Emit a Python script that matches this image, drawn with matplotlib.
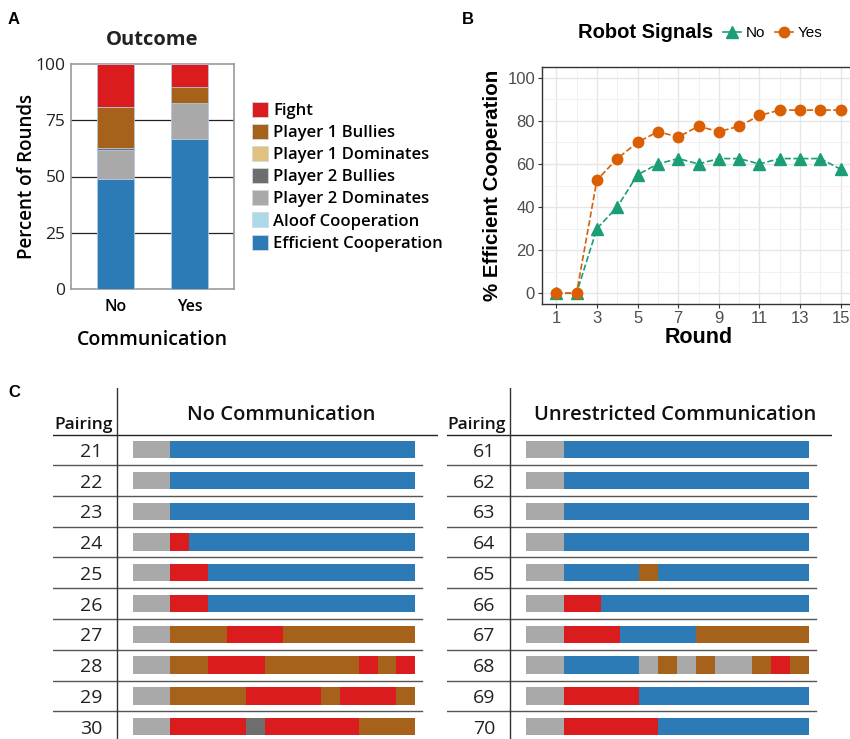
import matplotlib.pyplot as plt
from matplotlib.patches import Patch
from matplotlib.lines import Line2D

W, H = 850, 739

# Panel A: outcome shares (top of stack first)
outcomes = ["Fight", "Player 1 Bullies", "Player 1 Dominates", "Player 2 Bullies",
            "Player 2 Dominates", "Aloof Cooperation", "Efficient Cooperation"]
outcome_colors = ["#da1c1f", "#a6611a", "#dfc27d", "#6e6e6e",
                  "#a9a9a9", "#abd9e9", "#2c7bb6"]
comm_groups = ["No", "Yes"]
pct_no = [19.3, 18.0, 0.0, 0.7, 13.3, 0.0, 48.7]
pct_yes = [10.0, 7.3, 0.0, 0.0, 16.0, 0.0, 66.7]

# Panel B: % efficient cooperation per round
rounds = list(range(1, 16))
eff_signal_no = [0, 0, 30, 40, 55, 60, 62.5, 60, 62.5, 62.5, 60, 62.5, 62.5, 62.5, 57.5]
eff_signal_yes = [0, 0, 52.5, 62.5, 70, 75, 72.5, 77.5, 75, 77.5, 82.5, 85, 85, 85, 85]

# Panel C: round-by-round outcome of each pairing
# F fight, B P1 bullies, b P2 bullies, G P2 dominates, E efficient cooperation
code_index = {"F": 0, "B": 1, "d": 2, "b": 3, "G": 4, "A": 5, "E": 6}
pairings_none = ["21", "22", "23", "24", "25", "26", "27", "28", "29", "30"]
seq_none = [
    "GGEEEEEEEEEEEEE",
    "GGEEEEEEEEEEEEE",
    "GGEEEEEEEEEEEEE",
    "GGFEEEEEEEEEEEE",
    "GGFFEEEEEEEEEEE",
    "GGFFEEEEEEEEEEE",
    "GGBBBFFFBBBBBBB",
    "GGBBFFFBBBBBFBF",
    "GGBBBBFFFFBFFFB",
    "GGFFFFbFFFFFBBB",
]
pairings_free = ["61", "62", "63", "64", "65", "66", "67", "68", "69", "70"]
seq_free = [
    "GGEEEEEEEEEEEEE",
    "GGEEEEEEEEEEEEE",
    "GGEEEEEEEEEEEEE",
    "GGEEEEEEEEEEEEE",
    "GGEEEEBEEEEEEEE",
    "GGFFEEEEEEEEEEE",
    "GGFFFEEEEBBBBBB",
    "GGEEEEGBGBGGBFB",
    "GGFFFFEEEEEEEEE",
    "GGFFFFFEEEEEEEE",
]

SANS = ["Open Sans", "DejaVu Sans"]
ARIAL = ["Liberation Sans", "DejaVu Sans"]
plt.rcParams["font.family"] = SANS

fig = plt.figure(figsize=(W / 100, H / 100), dpi=100)


def px_axes(left, top, right, bottom):
    return fig.add_axes([left / W, 1 - bottom / H, (right - left) / W, (bottom - top) / H])


# ---------------- Panel A ----------------
ax_a = px_axes(71, 64, 234, 289)
xpos = [1, 2]
for g, vals in enumerate([pct_no, pct_yes]):
    bottom = 0
    for k in range(len(outcomes) - 1, -1, -1):
        if vals[k] > 0:
            ax_a.bar(xpos[g], vals[k], bottom=bottom, width=0.5, color=outcome_colors[k],
                     edgecolor="#b4c6dc", linewidth=0.6, zorder=3)
        bottom += vals[k]
ax_a.set_xlim(0.4, 2.6)
ax_a.set_ylim(0, 100)
ax_a.set_yticks([0, 25, 50, 75, 100])
ax_a.set_xticks(xpos)
ax_a.set_xticklabels(comm_groups, fontsize=11.5, fontweight="semibold")
ax_a.tick_params(axis="y", labelsize=12.5, length=0, pad=4, labelcolor="#222222")
ax_a.tick_params(axis="x", length=0, pad=7)
for y in [25, 50, 75]:
    ax_a.axhline(y, color="#222222", lw=0.9, zorder=1)
for s in ax_a.spines.values():
    s.set_color("#9a9a9a")
    s.set_linewidth(1.2)
ax_a.set_title("Outcome", fontsize=14.5, fontweight="bold", pad=14, color="#222222")
ax_a.set_ylabel("Percent of Rounds", fontsize=13.5, fontweight="semibold", labelpad=-1)
ax_a.set_xlabel("Communication", fontsize=14, fontweight="semibold", labelpad=11)

handles = [Patch(facecolor=c, edgecolor="#d0d8e0", linewidth=0.6) for c in outcome_colors]
fig.legend(handles, outcomes, loc="upper left", bbox_to_anchor=(245 / W, 1 - 95 / H),
           frameon=False, prop={"size": 12, "weight": "semibold"}, handlelength=1.0,
           handleheight=1.0, handletextpad=0.3, labelspacing=0.3, borderaxespad=0)

# ---------------- Panel B ----------------
ax_b = px_axes(542, 67, 855, 304)
ax_b.set_xlim(0.3, 15.7)
ax_b.set_ylim(-5, 105)
ax_b.set_xticks(range(1, 16, 2))
ax_b.set_xticks(range(2, 16, 2), minor=True)
ax_b.set_yticks(range(0, 101, 20))
ax_b.set_yticks(range(10, 101, 20), minor=True)
ax_b.grid(True, which="major", color="#e6e6e6", lw=1.0)
ax_b.grid(True, which="minor", color="#f0f0f0", lw=0.6)
ax_b.set_axisbelow(True)
ax_b.plot(rounds, eff_signal_no, color="#1b9e77", ls="--", lw=1.2, marker="^", ms=8, zorder=3)
ax_b.plot(rounds, eff_signal_yes, color="#d95f02", ls="--", lw=1.2, marker="o", ms=7.5, zorder=4)
ax_b.tick_params(which="major", labelsize=12, labelcolor="#4d4d4d", color="#333333", length=3,
                 pad=2)
ax_b.tick_params(which="minor", length=0)
for lbl in ax_b.get_xticklabels() + ax_b.get_yticklabels():
    lbl.set_family(ARIAL)
for s in ax_b.spines.values():
    s.set_color("#333333")
    s.set_linewidth(1.0)
ax_b.set_xlabel("Round", fontsize=15.5, fontweight="bold", family=ARIAL, labelpad=1)
ax_b.set_ylabel("% Efficient Cooperation", fontsize=14.8, fontweight="bold", family=ARIAL,
                labelpad=4)

fig.text(713 / W, 1 - 33 / H, "Robot Signals", ha="right", va="center",
         fontsize=14.5, fontweight="bold", family=ARIAL)
leg_handles = [
    Line2D([0], [0], color="#1b9e77", ls="-", lw=1.2, marker="^", ms=8),
    Line2D([0], [0], color="#d95f02", ls="-", lw=1.2, marker="o", ms=7.5),
]
fig.legend(leg_handles, ["No", "Yes"], loc="center left", bbox_to_anchor=(717 / W, 1 - 33 / H),
           ncol=2, frameon=False, prop={"family": ARIAL, "size": 11}, handlelength=1.2,
           handletextpad=0.3, columnspacing=0.6, borderaxespad=0)


# ---------------- Panel C ----------------
def draw_table(left_px, vline_px, bar_left_px, bar_right_px, line_right_px, head_right_px,
               pairings, seqs, title):
    scale = (bar_right_px - bar_left_px) / 15.0

    def tx(px):
        return (px - bar_left_px) / scale

    ax = px_axes(left_px, 388, head_right_px, 739)
    x0, x1 = tx(left_px), tx(head_right_px)
    ax.set_xlim(x0, x1)
    ax.set_ylim(9.4, -2.0)
    ax.axis("off")
    num_x = tx(vline_px - 26)
    for i, (name, seq) in enumerate(zip(pairings, seqs)):
        for r, ch in enumerate(seq):
            ax.barh(i, 1, left=r, height=0.56, color=outcome_colors[code_index[ch]],
                    linewidth=0)
        ax.text(num_x, i + 0.07, name, ha="center", va="center", fontsize=14, color="#222222")
    row_right = tx(line_right_px)
    for i in range(len(pairings) - 1):
        ax.plot([x0, row_right], [i + 0.5, i + 0.5], color="#555555", lw=1.0)
    ax.plot([x0, x1], [-0.47, -0.47], color="#222222", lw=1.0)
    ax.plot([tx(vline_px)] * 2, [-2.0, 9.4], color="#333333", lw=1.0)
    ax.text(tx(vline_px - 33), -0.8, "Pairing", ha="center", va="center", fontsize=12.5,
            fontweight="semibold", color="#111111")
    ax.text(7.5 + tx(bar_left_px + 7.5), -1.13, title, ha="center", va="center",
            fontsize=14.5, fontweight="semibold", color="#111111")


draw_table(53, 117, 132.7, 415.3, 422, 438, pairings_none, seq_none, "No Communication")
draw_table(447, 510, 526, 809, 816, 832, pairings_free, seq_free, "Unrestricted Communication")

# panel letters
for letter, x, y in [("A", 14, 20), ("B", 468, 20), ("C", 14, 392)]:
    fig.text(x / W, 1 - y / H, letter, ha="center", va="center", fontsize=12,
             fontweight="bold", family=ARIAL)

fig.savefig("out.png", dpi=100)
